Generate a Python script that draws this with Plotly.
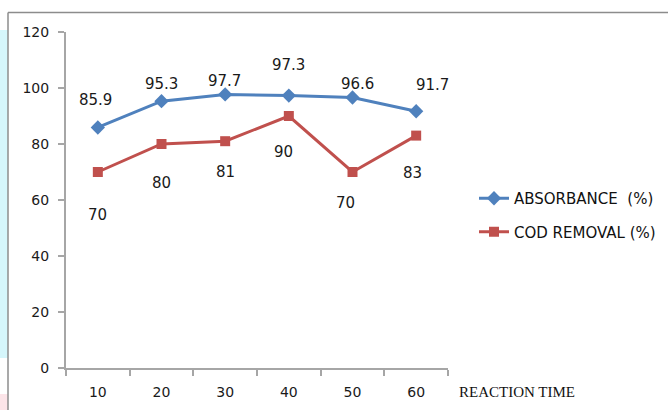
import plotly.graph_objects as go

reaction_time = ["10", "20", "30", "40", "50", "60"]
absorbance = [85.9, 95.3, 97.7, 97.3, 96.6, 91.7]
cod_removal = [70, 80, 81, 90, 70, 83]
y_ticks = [0, 20, 40, 60, 80, 100, 120]

# label offsets (styling) in pixels
abs_label_dy = [27, 17, 13, 31, 14, 26]
abs_label_dx = [-2, 0, -1, 0, 5, 16]
cod_label_dy = [-43, -39, -31, -36, -31, -37]
cod_label_dx = [0, 0, 0, -5, -7, -4]

BLUE = "#4F81BD"
RED = "#C0504D"
FONT = "DejaVu Sans"
TXT = "#1a1a1a"

fig = go.Figure()
fig.add_trace(go.Scatter(
    x=reaction_time, y=absorbance, mode="lines+markers", name="ABSORBANCE  (%)",
    legendgroup="a",
    line=dict(color=BLUE, width=3), marker=dict(symbol="diamond", size=11, color=BLUE),
))
fig.add_trace(go.Scatter(
    x=reaction_time, y=cod_removal, mode="lines+markers", name="COD REMOVAL (%)",
    legendgroup="b",
    line=dict(color=RED, width=3), marker=dict(symbol="square", size=10, color=RED),
))

annotations = []
for i, yv in enumerate(absorbance):
    annotations.append(dict(x=i, y=yv, text=f"{yv}", showarrow=False, xref="x", yref="y",
                            yshift=abs_label_dy[i], xshift=abs_label_dx[i],
                            font=dict(family=FONT, size=15, color=TXT)))
for i, yv in enumerate(cod_removal):
    annotations.append(dict(x=i, y=yv, text=f"{yv}", showarrow=False, xref="x", yref="y",
                            yshift=cod_label_dy[i], xshift=cod_label_dx[i],
                            font=dict(family=FONT, size=15, color=TXT)))
annotations.append(dict(x=(457 - 66) / 382, y=(368 - 392) / 336, xref="paper", yref="paper",
                        xanchor="left", yanchor="middle", showarrow=False, text="REACTION TIME",
                        font=dict(family="Liberation Serif", size=15, color="#111")))

shapes = [
    # background strips at the left edge
    dict(type="rect", xref="paper", yref="paper", x0=-66 / 382, x1=-58 / 382,
         y0=(368 - 358) / 336, y1=(368 - 30) / 336, fillcolor="#D5F6FB", line=dict(width=0), layer="below"),
    dict(type="rect", xref="paper", yref="paper", x0=-66 / 382, x1=-58 / 382,
         y0=(368 - 420) / 336, y1=(368 - 394) / 336, fillcolor="#FCE4E8", line=dict(width=0), layer="below"),
    # chart frame
    dict(type="line", xref="paper", yref="paper", x0=-58 / 382, x1=-58 / 382,
         y0=(368 - 420) / 336, y1=(368 - 12.5) / 336, line=dict(color="#8C8C8C", width=1.5)),
    dict(type="line", xref="paper", yref="paper", x0=-58 / 382, x1=(668 - 66) / 382,
         y0=(368 - 12.5) / 336, y1=(368 - 12.5) / 336, line=dict(color="#8C8C8C", width=1.5)),
]

fig.update_layout(
    width=668, height=410,
    margin=dict(l=66, r=220, t=32, b=42, autoexpand=False),
    paper_bgcolor="white", plot_bgcolor="white",
    font=dict(family=FONT, size=14, color=TXT),
    showlegend=True,
    legend=dict(x=(474 - 66) / 382, y=(368 - 182) / 336, xanchor="left", yanchor="top",
                font=dict(family=FONT, size=15, color="#111"), tracegroupgap=11,
                traceorder="grouped", itemwidth=30, bgcolor="rgba(0,0,0,0)"),
    annotations=annotations,
    shapes=shapes,
    xaxis=dict(type="category", range=[-0.5, 5.5], showgrid=False, showline=True,
               linecolor="#A6A6A6", linewidth=2, ticks="outside", tickson="boundaries",
               ticklen=6, tickcolor="#A6A6A6", tickwidth=2, zeroline=False,
               ticklabelstandoff=10, automargin=False,
               tickfont=dict(family=FONT, size=14, color=TXT)),
    yaxis=dict(range=[0, 120], tickvals=y_ticks, showgrid=False, showline=True,
               linecolor="#A6A6A6", linewidth=2, ticks="outside", ticklen=6,
               tickcolor="#A6A6A6", tickwidth=2, zeroline=False,
               ticklabelstandoff=6, automargin=False,
               tickfont=dict(family=FONT, size=14, color=TXT)),
)

fig.write_html("out.html", config={"displayModeBar": False},
               post_script="document.body.style.margin='0';")
